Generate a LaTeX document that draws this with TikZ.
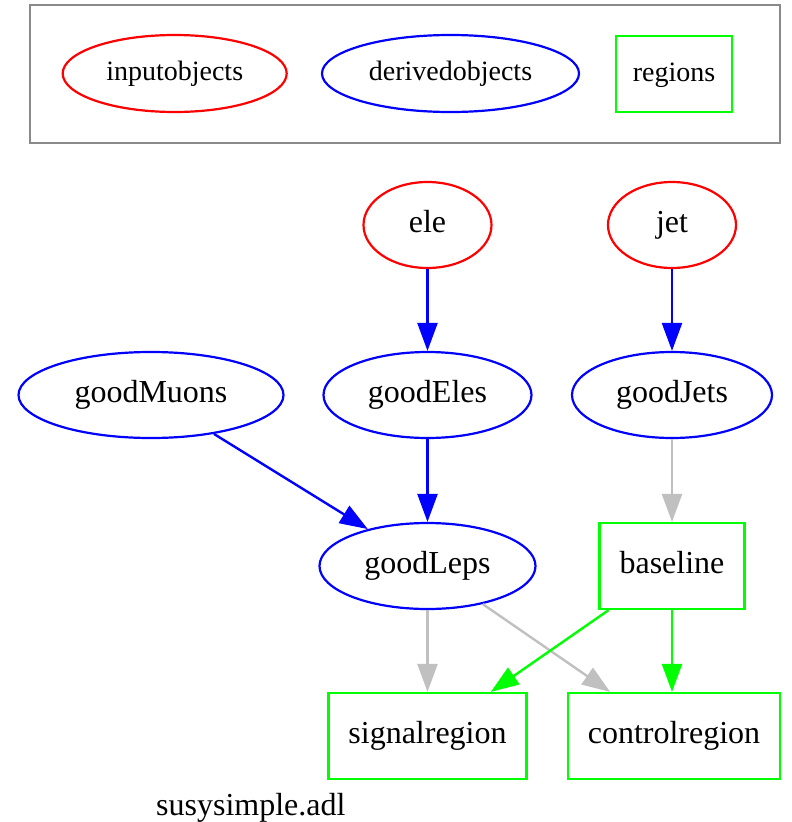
\documentclass[tikz,border=0pt]{standalone}
\usepackage{fontspec}
\setmainfont{Liberation Serif}
\usetikzlibrary{shapes.geometric,arrows.meta}
\definecolor{gvred}{HTML}{FF0000}
\definecolor{gvblue}{HTML}{0000FF}
\definecolor{gvgreen}{HTML}{00FF00}
\definecolor{gvgray}{HTML}{C0C0C0}
\definecolor{boxgray}{HTML}{8A8A8A}
\begin{document}
\begin{tikzpicture}[x=1pt,y=-1pt,
  mainfont/.style={font=\fontsize{32}{38}\selectfont, text height=22pt, text depth=7pt},
  legfont/.style={font=\fontsize{28}{34}\selectfont, text height=20pt, text depth=5.5pt},
  inobj/.style={ellipse, draw=gvred, line width=2.2pt, inner sep=0pt, minimum height=86pt},
  derobj/.style={ellipse, draw=gvblue, line width=2.2pt, inner sep=0pt, minimum height=86pt},
  regbox/.style={rectangle, draw=gvgreen, line width=2.2pt, inner sep=0pt, minimum height=86pt},
  legendbox/.style={rectangle, draw=boxgray, line width=2.6pt, inner sep=0pt},
  gvarrow/.style={line width=2.4pt, -{Triangle[length=28pt,width=20pt]}},
  bedge/.style={gvarrow, draw=gvblue, fill=gvblue},
  gedge/.style={gvarrow, draw=gvgray, fill=gvgray},
  redge/.style={gvarrow, draw=gvgreen, fill=gvgreen}
]
\useasboundingbox (0,0) rectangle (792,822);

% legend
\node[legendbox, minimum width=750pt, minimum height=138pt] (legend) at (405,74) {};
\node[inobj, legfont, minimum width=224pt, minimum height=77pt] (linput) at (174.7,73.5) {inputobjects};
\node[derobj, legfont, minimum width=257pt, minimum height=77pt] (lderived) at (450.5,73.5) {derivedobjects};
\node[regbox, legfont, minimum width=116pt, minimum height=76pt] (lregions) at (674,74) {regions};

% graph nodes
\node[inobj, mainfont, minimum width=128pt] (ele) at (427.5,225) {ele};
\node[inobj, mainfont, minimum width=128pt] (jet) at (672,225) {jet};
\node[derobj, mainfont, minimum width=265pt] (goodMuons) at (151,395) {goodMuons};
\node[derobj, mainfont, minimum width=208pt] (goodEles) at (427.5,395) {goodEles};
\node[derobj, mainfont, minimum width=200pt] (goodJets) at (672,395) {goodJets};
\node[derobj, mainfont, minimum width=216pt] (goodLeps) at (427.5,566) {goodLeps};
\node[regbox, mainfont, minimum width=145pt] (baseline) at (672,566) {baseline};
\node[regbox, mainfont, minimum width=198pt] (signalregion) at (427.5,736) {signalregion};
\node[regbox, mainfont, minimum width=212pt] (controlregion) at (674,736) {controlregion};

% edges
\draw[bedge] (ele) -- (goodEles);
\draw[bedge] (jet) -- (goodJets);
\draw[bedge] (goodMuons) -- (goodLeps);
\draw[bedge] (goodEles) -- (goodLeps);
\draw[gedge] (goodJets) -- (baseline);
\draw[gedge] (goodLeps) -- (signalregion);
\draw[gedge] (goodLeps) -- (controlregion);
\draw[redge] (baseline) -- (signalregion);
\draw[redge] (baseline.south) -- (controlregion.north -| baseline.south);

% title
\node[anchor=base west, inner sep=0pt, font=\fontsize{32}{38}\selectfont] (title) at (156,815) {susysimple.adl};
\end{tikzpicture}
\end{document}
